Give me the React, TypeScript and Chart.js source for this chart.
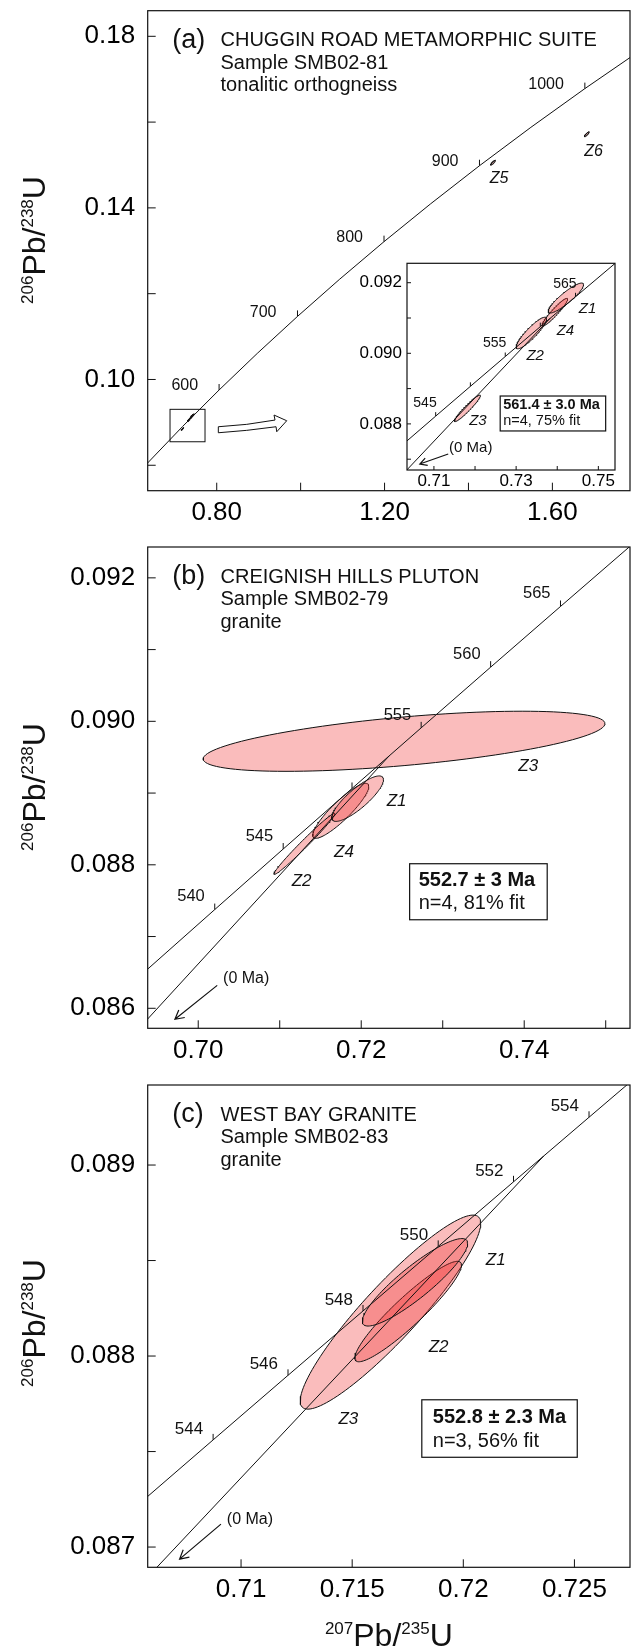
import React, { useEffect, useRef } from "react";
import { Chart, registerables } from "chart.js";

Chart.register(...registerables);

const FONT = "'Liberation Sans', Arial, Helvetica, sans-serif";
const INK = "#111";
const ELLIPSE_FILL = "rgba(240, 40, 40, 0.31)";

// ---------------- Concordia curves (age in Ma, 207Pb/235U, 206Pb/238U) ----------------
const concordiaAgesWide = [495, 550, 600, 650, 700, 750, 800, 850, 900, 950, 1000, 1050];
const concordiaXWide = [0.62824, 0.71887, 0.80563, 0.89677, 0.9925, 1.09308, 1.19872, 1.30971, 1.42626, 1.54876, 1.6774, 1.81254];
const concordiaYWide = [0.07981, 0.089064, 0.097544, 0.10609, 0.114702, 0.12338, 0.132129, 0.14094, 0.149828, 0.15878, 0.167804, 0.176895];

const concordiaAgesNarrow = [535, 540, 545, 550, 555, 560, 565, 570, 575];
const concordiaXNarrow = [0.693665, 0.702026, 0.710426, 0.71887, 0.727355, 0.73588, 0.744451, 0.753064, 0.761717];
const concordiaYNarrow = [0.086533, 0.087376, 0.08822, 0.089064, 0.089909, 0.090755, 0.091601, 0.092448, 0.093296];

const concordiaAgesC = [540, 542, 544, 546, 548, 550, 552, 554, 556];
const concordiaXC = [0.702026, 0.705381, 0.708743, 0.712113, 0.715487, 0.71887, 0.722259, 0.725656, 0.729058];
const concordiaYC = [0.086886, 0.087223, 0.087561, 0.087899, 0.088236, 0.088574, 0.088912, 0.08925, 0.089588];

// ---------------- Discordia chords (toward 0 Ma) ----------------
const discordiaXInset = [0.7, 0.738277];
const discordiaYInset = [0.086275, 0.090992];
const discordiaXB = [0.69, 0.72345];
const discordiaYB = [0.085381, 0.089521];
const discordiaXC = [0.705, 0.723617];
const discordiaYC = [0.086744, 0.089047];

// ---------------- Zircon error ellipses ----------------
const zirconsA = [
  { id: "Z5", x: 1.4585, y: 0.15055, sx: 0.006, sy: 0.0006, rho: 0.9 },
  { id: "Z6", x: 1.682, y: 0.15716, sx: 0.006, sy: 0.0006, rho: 0.9 },
];
const zirconsInset = [
  { id: "Z1", x: 0.7421, y: 0.091566, sx: 0.0043, sy: 0.000425, rho: 0.894 },
  { id: "Z2", x: 0.7337, y: 0.090576, sx: 0.0037, sy: 0.000447, rho: 0.894 },
  { id: "Z3", x: 0.718156, y: 0.088441, sx: 0.00315, sy: 0.000376, rho: 0.957 },
  { id: "Z4", x: 0.73942, y: 0.091165, sx: 0.0031, sy: 0.000392, rho: 0.944 },
];
const zirconsB = [
  { id: "Z1", x: 0.71956, y: 0.088922, sx: 0.00317, sy: 0.000317, rho: 0.836 },
  { id: "Z2", x: 0.71303, y: 0.088292, sx: 0.00374, sy: 0.000426, rho: 0.986 },
  { id: "Z3", x: 0.72526, y: 0.089722, sx: 0.02465, sy: 0.000419, rho: 0.587 },
  { id: "Z4", x: 0.71749, y: 0.088752, sx: 0.00344, sy: 0.000383, rho: 0.89 },
];
const zirconsC = [
  { id: "Z1", x: 0.717826, y: 0.088386, sx: 0.00237, sy: 0.000229, rho: 0.89 },
  { id: "Z2", x: 0.717518, y: 0.088233, sx: 0.0024, sy: 0.000263, rho: 0.925 },
  { id: "Z3", x: 0.716723, y: 0.08823, sx: 0.00406, sy: 0.000508, rho: 0.915 },
];

// label anchors for zircon names
const zLabelA = [["Z5", 1.4729, 0.14691], ["Z6", 1.6984, 0.15311]];
const zLabelInset = [["Z1", 0.74737, 0.091246], ["Z2", 0.73464, 0.089924], ["Z3", 0.72071, 0.088091], ["Z4", 0.74199, 0.09064]];
const zLabelB = [["Z1", 0.72434, 0.088884], ["Z2", 0.71269, 0.087768], ["Z3", 0.74049, 0.089372], ["Z4", 0.71788, 0.088179]];
const zLabelC = [["Z1", 0.72146, 0.088501], ["Z2", 0.71889, 0.088044], ["Z3", 0.71483, 0.087667]];

// ---------------- Axis ticks ----------------
const xTicksA = [0.8, 1.0, 1.2, 1.4, 1.6];
const xTickLabelsA = ["0.80", "", "1.20", "", "1.60"];
const yTicksA = [0.08, 0.1, 0.12, 0.14, 0.16, 0.18];
const yTickLabelsA = ["", "0.10", "", "0.14", "", "0.18"];

const xTicksInset = [0.71, 0.72, 0.73, 0.74, 0.75];
const xTickLabelsInset = ["0.71", "", "0.73", "", "0.75"];
const yTicksInset = [0.087, 0.088, 0.089, 0.09, 0.091, 0.092];
const yTickLabelsInset = ["", "0.088", "", "0.090", "", "0.092"];

const xTicksB = [0.7, 0.71, 0.72, 0.73, 0.74, 0.75];
const xTickLabelsB = ["0.70", "", "0.72", "", "0.74", ""];
const yTicksB = [0.086, 0.087, 0.088, 0.089, 0.09, 0.091, 0.092];
const yTickLabelsB = ["0.086", "", "0.088", "", "0.090", "", "0.092"];

const xTicksC = [0.71, 0.715, 0.72, 0.725];
const xTickLabelsC = ["0.71", "0.715", "0.72", "0.725"];
const yTicksC = [0.087, 0.0875, 0.088, 0.0885, 0.089];
const yTickLabelsC = ["0.087", "", "0.088", "", "0.089"];

// concordia age marks
const ageTicksA = [600, 700, 800, 900, 1000];
const ageTicksInset = [545, 550, 555, 560, 565];
const ageLabelsInset = [545, 555, 565];
const ageTicksB = [540, 545, 550, 555, 560, 565];
const ageLabelsB = [540, 545, 555, 560, 565];
const ageTicksC = [544, 546, 548, 550, 552, 554];

// hollow arrow of panel (a), zoom box
const hollowArrowX = [0.8038, 0.8715, 0.93896, 0.93658, 0.96685, 0.94307, 0.94141, 0.8715, 0.8038];
const hollowArrowY = [0.088979, 0.089538, 0.090541, 0.091707, 0.090378, 0.087812, 0.088979, 0.088139, 0.087579];
const zoomRectA = [0.6887, 0.7721, 0.08548, 0.09304];

const yTitleParts = [
  { t: "206", sup: true },
  { t: "Pb/", sup: false },
  { t: "238", sup: true },
  { t: "U", sup: false },
];
const xTitleParts = [
  { t: "207", sup: true },
  { t: "Pb/", sup: false },
  { t: "235", sup: true },
  { t: "U", sup: false },
];

// ---------------- helpers ----------------
function ellipsePoints(z: any, n = 120) {
  const k = Math.sqrt(1 - z.rho * z.rho);
  const pts: any[] = [];
  for (let i = 0; i <= n; i++) {
    const t = (2 * Math.PI * i) / n;
    pts.push({ x: z.x + z.sx * Math.cos(t), y: z.y + z.sy * (z.rho * Math.cos(t) + k * Math.sin(t)) });
  }
  return pts;
}
function lineData(xs: number[], ys: number[]) {
  return xs.map((x, i) => ({ x, y: ys[i] }));
}

function buildDatasets(p: any) {
  const base = { showLine: true, borderColor: INK, borderWidth: 1, pointRadius: 0, pointHoverRadius: 0, fill: false, tension: 0 };
  const ds: any[] = [];
  ds.push({ ...base, data: lineData(p.concX, p.concY), order: 0 });
  if (p.discX) ds.push({ ...base, data: lineData(p.discX, p.discY), order: 0 });
  p.zircons.forEach((z: any, i: number) =>
    ds.push({ ...base, data: ellipsePoints(z), fill: "shape", backgroundColor: ELLIPSE_FILL, order: 1 + i })
  );
  return ds;
}

function drawSupText(ctx: any, parts: any[], x: number, y: number, main: number, sup: number, rise: number) {
  let total = 0;
  const widths = parts.map((pt) => {
    ctx.font = `${pt.sup ? sup : main}px ${FONT}`;
    const w = ctx.measureText(pt.t).width;
    total += w;
    return w;
  });
  let cx = x - total / 2;
  ctx.textAlign = "left";
  ctx.textBaseline = "alphabetic";
  parts.forEach((pt, i) => {
    ctx.font = `${pt.sup ? sup : main}px ${FONT}`;
    ctx.fillText(pt.t, cx, pt.sup ? y - rise : y);
    cx += widths[i];
  });
}

function zeroPad(s: any) {
  s.paddingTop = 0;
  s.paddingBottom = 0;
  s.paddingLeft = 0;
  s.paddingRight = 0;
}

function decoPlugin(p: any) {
  return {
    id: "deco",
    beforeDraw(chart: any) {
      if (!p.whiteBg) return;
      const { ctx, chartArea: a } = chart;
      ctx.save();
      ctx.fillStyle = "#fff";
      ctx.fillRect(a.left, a.top, a.right - a.left, a.bottom - a.top);
      ctx.restore();
    },
    afterDatasetsDraw(chart: any) {
      const { ctx, chartArea: a } = chart;
      const xs = chart.scales.x;
      const ys = chart.scales.y;
      const X = (v: number) => xs.getPixelForValue(v);
      const Y = (v: number) => ys.getPixelForValue(v);
      ctx.save();
      ctx.strokeStyle = INK;
      ctx.fillStyle = INK;

      // inward axis ticks
      ctx.lineWidth = 1;
      ctx.beginPath();
      p.xTicks.forEach((v: number) => {
        const x = X(v);
        ctx.moveTo(x, a.bottom);
        ctx.lineTo(x, a.bottom - p.tickMark);
      });
      p.yTicks.forEach((v: number) => {
        const y = Y(v);
        ctx.moveTo(a.left, y);
        ctx.lineTo(a.left + p.tickMark, y);
      });
      ctx.stroke();

      // frame
      ctx.lineWidth = p.frameWidth;
      ctx.strokeRect(a.left, a.top, a.right - a.left, a.bottom - a.top);

      // concordia age ticks and labels
      ctx.lineWidth = 1;
      ctx.beginPath();
      p.ageTicks.forEach((age: number) => {
        const i = p.concAges.indexOf(age);
        const x = X(p.concX[i]);
        const y = Y(p.concY[i]);
        ctx.moveTo(x, y);
        ctx.lineTo(x, y - p.ageTickLen);
      });
      ctx.stroke();
      ctx.font = `${p.ageFont}px ${FONT}`;
      ctx.textAlign = "right";
      ctx.textBaseline = "middle";
      p.ageLabels.forEach((age: number) => {
        const i = p.concAges.indexOf(age);
        ctx.fillText(String(age), X(p.concX[i]) + p.ageDx, Y(p.concY[i]) + p.ageDy);
      });

      // zircon labels
      ctx.font = `italic ${p.zFont}px ${FONT}`;
      ctx.textAlign = "center";
      p.zLabels.forEach((l: any) => ctx.fillText(l[0], X(l[1]), Y(l[2])));

      // titles
      if (p.title) {
        ctx.textAlign = "left";
        ctx.textBaseline = "middle";
        ctx.font = `27px ${FONT}`;
        ctx.fillText(p.title.tag, a.left + 24.5, a.top + 30);
        ctx.font = `20px ${FONT}`;
        p.title.lines.forEach((s: string, i: number) => ctx.fillText(s, a.left + 72.8, a.top + 30 + i * 22.5));
      }

      // result box
      if (p.box) {
        const b = p.box;
        const x0 = X(b.x0), x1 = X(b.x1), y0 = Y(b.y0), y1 = Y(b.y1);
        ctx.lineWidth = 1.2;
        ctx.strokeRect(x0, y0, x1 - x0, y1 - y0);
        ctx.textAlign = "left";
        ctx.textBaseline = "middle";
        ctx.font = `bold ${b.font}px ${FONT}`;
        ctx.fillText(b.line1, x0 + b.pad, y0 + b.dy1);
        ctx.font = `${b.font}px ${FONT}`;
        ctx.fillText(b.line2, x0 + b.pad, y0 + b.dy2);
      }

      // (0 Ma) arrow
      if (p.zero) {
        const z = p.zero;
        const x0 = X(z.ax0), y0 = Y(z.ay0), x1 = X(z.ax1), y1 = Y(z.ay1);
        ctx.lineWidth = 1.2;
        ctx.beginPath();
        ctx.moveTo(x0, y0);
        ctx.lineTo(x1, y1);
        const ang = Math.atan2(y0 - y1, x0 - x1);
        ctx.moveTo(x1 + z.head * Math.cos(ang + 0.5), y1 + z.head * Math.sin(ang + 0.5));
        ctx.lineTo(x1, y1);
        ctx.lineTo(x1 + z.head * Math.cos(ang - 0.5), y1 + z.head * Math.sin(ang - 0.5));
        ctx.stroke();
        ctx.font = `${z.font}px ${FONT}`;
        ctx.textAlign = "center";
        ctx.textBaseline = "middle";
        ctx.fillText("(0 Ma)", X(z.lx), Y(z.ly));
      }

      // zoom rectangle + hollow arrow (panel a)
      if (p.zoomRect) {
        const r = p.zoomRect;
        ctx.lineWidth = 1;
        ctx.strokeRect(X(r[0]), Y(r[3]), X(r[1]) - X(r[0]), Y(r[2]) - Y(r[3]));
        ctx.beginPath();
        hollowArrowX.forEach((v, i) => {
          const px = X(v), py = Y(hollowArrowY[i]);
          if (i === 0) ctx.moveTo(px, py);
          else ctx.lineTo(px, py);
        });
        ctx.closePath();
        ctx.fillStyle = "#fff";
        ctx.fill();
        ctx.stroke();
        ctx.fillStyle = INK;
      }

      // axis titles
      if (p.yTitleCY != null) {
        ctx.save();
        ctx.translate(45, p.yTitleCY);
        ctx.rotate(-Math.PI / 2);
        drawSupText(ctx, yTitleParts, 0, 0, 32, 17, 12);
        ctx.restore();
      }
      if (p.xTitleBase != null) {
        drawSupText(ctx, xTitleParts, (a.left + a.right) / 2, p.xTitleBase, 32, 17, 12);
      }
      ctx.restore();
    },
  };
}

function makeConfig(p: any) {
  const tickFont = { family: FONT, size: p.tickFont };
  return {
    type: "scatter",
    data: { datasets: buildDatasets(p) },
    options: {
      animation: false,
      responsive: false,
      devicePixelRatio: 1,
      events: [],
      layout: { autoPadding: false, padding: { left: 0, top: p.padTop, right: p.padRight, bottom: 0 } },
      plugins: { legend: { display: false }, tooltip: { enabled: false } },
      scales: {
        x: {
          type: "linear",
          min: p.xMin,
          max: p.xMax,
          grid: { display: false, drawTicks: false },
          border: { display: false },
          afterBuildTicks: (s: any) => {
            s.ticks = p.xTicks.map((v: number) => ({ value: v }));
          },
          afterFit: (s: any) => {
            s.height = p.xAxisH;
            zeroPad(s);
          },
          ticks: {
            autoSkip: false,
            maxRotation: 0,
            minRotation: 0,
            padding: p.xPad,
            color: "#000",
            font: tickFont,
            callback: (_v: any, i: number) => p.xTickLabels[i],
          },
        },
        y: {
          type: "linear",
          min: p.yMin,
          max: p.yMax,
          grid: { display: false, drawTicks: false },
          border: { display: false },
          afterBuildTicks: (s: any) => {
            s.ticks = p.yTicks.map((v: number) => ({ value: v }));
          },
          afterFit: (s: any) => {
            s.width = p.yAxisW;
            zeroPad(s);
          },
          ticks: {
            autoSkip: false,
            padding: p.yPad,
            color: "#000",
            font: tickFont,
            callback: (_v: any, i: number) => p.yTickLabels[i],
          },
        },
      },
    },
    plugins: [decoPlugin(p)],
  };
}

// ---------------- panel configurations ----------------
const panelA = {
  xMin: 0.6355, xMax: 1.785, yMin: 0.07407, yMax: 0.18597,
  padTop: 10.7, padRight: 1, yAxisW: 147.7, xAxisH: 39.3,
  xTicks: xTicksA, xTickLabels: xTickLabelsA, yTicks: yTicksA, yTickLabels: yTickLabelsA,
  tickFont: 26, xPad: 7, yPad: 12.5, tickMark: 8, frameWidth: 1.2,
  concAges: concordiaAgesWide, concX: concordiaXWide, concY: concordiaYWide,
  zircons: [...zirconsA, ...zirconsInset],
  ageTicks: ageTicksA, ageLabels: ageTicksA, ageTickLen: 6, ageFont: 16, ageDx: -21, ageDy: -4,
  zLabels: zLabelA, zFont: 16,
  title: { tag: "(a)", lines: ["CHUGGIN ROAD METAMORPHIC SUITE", "Sample SMB02-81", "tonalitic orthogneiss"] },
  zoomRect: zoomRectA,
  yTitleCY: 240,
};

const panelInset = {
  whiteBg: true,
  xMin: 0.70345, xMax: 0.75405, yMin: 0.086694, yMax: 0.09255,
  padTop: 13.3, padRight: 10, yAxisW: 67, xAxisH: 30,
  xTicks: xTicksInset, xTickLabels: xTickLabelsInset, yTicks: yTicksInset, yTickLabels: yTickLabelsInset,
  tickFont: 17, xPad: 1.5, yPad: 5, tickMark: 4, frameWidth: 1.2,
  concAges: concordiaAgesNarrow, concX: concordiaXNarrow, concY: concordiaYNarrow,
  discX: discordiaXInset, discY: discordiaYInset,
  zircons: zirconsInset,
  ageTicks: ageTicksInset, ageLabels: ageLabelsInset, ageTickLen: 4, ageFont: 14, ageDx: 1, ageDy: -13,
  zLabels: zLabelInset, zFont: 15,
  box: { x0: 0.72612, x1: 0.75178, y0: 0.08879, y1: 0.0878, line1: "561.4 ± 3.0 Ma", line2: "n=4, 75% fit", font: 14.5, pad: 3, dy1: 9, dy2: 24.7 },
  zero: { lx: 0.71896, ly: 0.087309, ax0: 0.71348, ay0: 0.087147, ax1: 0.70657, ay1: 0.086864, head: 8, font: 15 },
};

const panelB = {
  xMin: 0.6938, xMax: 0.75298, yMin: 0.085721, yMax: 0.09243,
  padTop: 17, padRight: 1, yAxisW: 147.7, xAxisH: 46.7,
  xTicks: xTicksB, xTickLabels: xTickLabelsB, yTicks: yTicksB, yTickLabels: yTickLabelsB,
  tickFont: 26, xPad: 7, yPad: 12.5, tickMark: 8, frameWidth: 1.2,
  concAges: concordiaAgesNarrow, concX: concordiaXNarrow, concY: concordiaYNarrow,
  discX: discordiaXB, discY: discordiaYB,
  zircons: zirconsB,
  ageTicks: ageTicksB, ageLabels: ageLabelsB, ageTickLen: 6, ageFont: 16.5, ageDx: -10, ageDy: -12.8,
  zLabels: zLabelB, zFont: 17,
  title: { tag: "(b)", lines: ["CREIGNISH HILLS PLUTON", "Sample SMB02-79", "granite"] },
  box: { x0: 0.72594, x1: 0.74282, y0: 0.088015, y1: 0.087234, line1: "552.7 ± 3 Ma", line2: "n=4, 81% fit", font: 20, pad: 9, dy1: 17, dy2: 40 },
  zero: { lx: 0.70589, ly: 0.086418, ax0: 0.70233, ay0: 0.086319, ax1: 0.69714, ay1: 0.085847, head: 10, font: 16 },
  yTitleCY: 257,
};

const panelC = {
  xMin: 0.7058, xMax: 0.7275, yMin: 0.086894, yMax: 0.089419,
  padTop: 10, padRight: 1, yAxisW: 147.7, xAxisH: 81.7,
  xTicks: xTicksC, xTickLabels: xTickLabelsC, yTicks: yTicksC, yTickLabels: yTickLabelsC,
  tickFont: 26, xPad: 7, yPad: 12.5, tickMark: 8, frameWidth: 1.2,
  concAges: concordiaAgesC, concX: concordiaXC, concY: concordiaYC,
  discX: discordiaXC, discY: discordiaYC,
  zircons: zirconsC,
  ageTicks: ageTicksC, ageLabels: ageTicksC, ageTickLen: 6, ageFont: 17, ageDx: -10, ageDy: -11,
  zLabels: zLabelC, zFont: 17,
  title: { tag: "(c)", lines: ["WEST BAY GRANITE", "Sample SMB02-83", "granite"] },
  box: { x0: 0.718133, x1: 0.725127, y0: 0.087771, y1: 0.08747, line1: "552.8 ± 2.3 Ma", line2: "n=3, 56% fit", font: 20, pad: 11, dy1: 18, dy2: 42 },
  zero: { lx: 0.7104, ly: 0.087143, ax0: 0.709096, ay0: 0.08712, ax1: 0.707235, ay1: 0.086937, head: 10, font: 16 },
  yTitleCY: 248,
  xTitleBase: 571,
};

function ChartBox({ cfg, left, top, width, height }: any) {
  const ref = useRef<HTMLCanvasElement>(null);
  useEffect(() => {
    const chart = new Chart(ref.current as any, makeConfig(cfg) as any);
    return () => chart.destroy();
  }, []);
  return (
    <canvas
      ref={ref}
      width={width}
      height={height}
      style={{ position: "absolute", left, top, width, height }}
    />
  );
}

export default function App() {
  return (
    <div style={{ position: "absolute", left: 0, top: 0, width: 631, height: 1649, background: "#fff", overflow: "hidden" }}>
      <ChartBox cfg={panelA} left={0} top={0} width={631} height={530} />
      <ChartBox cfg={panelInset} left={340} top={250} width={285} height={250} />
      <ChartBox cfg={panelB} left={0} top={530} width={631} height={545} />
      <ChartBox cfg={panelC} left={0} top={1075} width={631} height={574} />
    </div>
  );
}
